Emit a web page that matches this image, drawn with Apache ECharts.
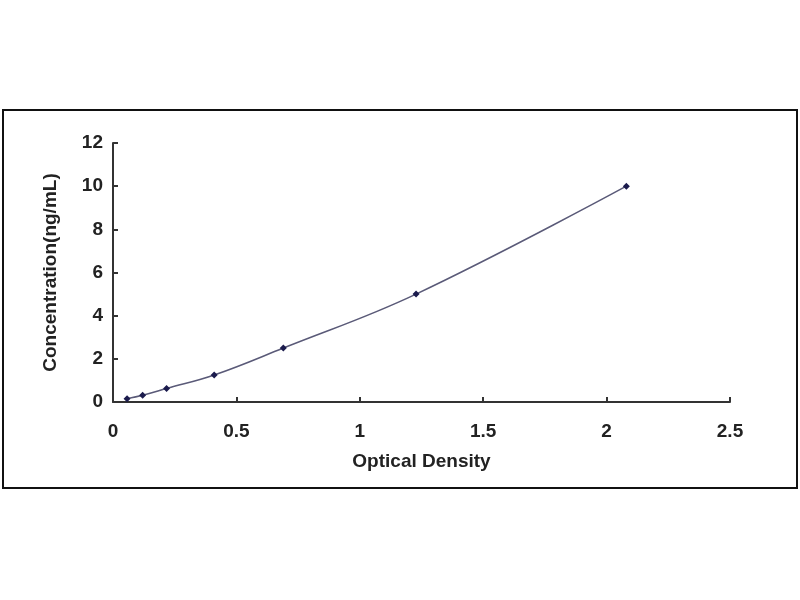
<!DOCTYPE html>
<html>
<head>
<meta charset="utf-8">
<script src="https://cdn.jsdelivr.net/npm/echarts@6/dist/echarts.min.js"></script>
<style>
  html, body { margin: 0; padding: 0; background: #fff; }
  #chart { width: 800px; height: 600px; }
</style>
</head>
<body>
<div id="chart"></div>
<script>
// standard curve: optical density (x) vs concentration (y)
var odValues = [0.057, 0.12, 0.217, 0.41, 0.69, 1.228, 2.08];
var concValues = [0.156, 0.312, 0.625, 1.25, 2.5, 5, 10];

var points = [];
for (var i = 0; i < odValues.length; i++) {
    points.push([odValues[i], concValues[i]]);
}

var fontFam = '"Liberation Sans", Arial, sans-serif';
var myChart = echarts.init(document.getElementById('chart'));

myChart.setOption({
    animation: false,
    backgroundColor: '#fff',
    graphic: [{
        type: 'rect',
        shape: { x: 3, y: 110, width: 794, height: 378 },
        style: { fill: 'none', stroke: '#111', lineWidth: 2 }
    }],
    grid: { left: 113, right: 70, top: 143, bottom: 198 },
    xAxis: {
        type: 'value',
        min: 0, max: 2.5, interval: 0.5,
        name: 'Optical Density',
        nameLocation: 'middle',
        nameGap: 50,
        nameTextStyle: { fontFamily: fontFam, fontWeight: 'bold', fontSize: 19, color: '#222' },
        axisLine: { lineStyle: { color: '#333', width: 2 } },
        axisTick: { inside: true, length: 5, lineStyle: { color: '#333', width: 2 } },
        axisLabel: { fontFamily: fontFam, fontWeight: 'bold', fontSize: 19, color: '#222', margin: 20 },
        splitLine: { show: false }
    },
    yAxis: {
        type: 'value',
        min: 0, max: 12, interval: 2,
        name: 'Concentration(ng/mL)',
        nameLocation: 'middle',
        nameGap: 53,
        nameTextStyle: { fontFamily: fontFam, fontWeight: 'bold', fontSize: 19, color: '#222' },
        axisLine: { show: true, lineStyle: { color: '#333', width: 2 } },
        axisTick: { show: true, inside: true, length: 5, lineStyle: { color: '#333', width: 2 } },
        axisLabel: { fontFamily: fontFam, fontWeight: 'bold', fontSize: 19, color: '#222', margin: 10 },
        splitLine: { show: false }
    },
    series: [{
        type: 'line',
        data: points,
        smooth: 0.4,
        symbol: 'diamond',
        symbolSize: 7,
        itemStyle: { color: '#1b1b4d' },
        lineStyle: { color: '#5a5a78', width: 1.5 }
    }]
});
</script>
</body>
</html>
